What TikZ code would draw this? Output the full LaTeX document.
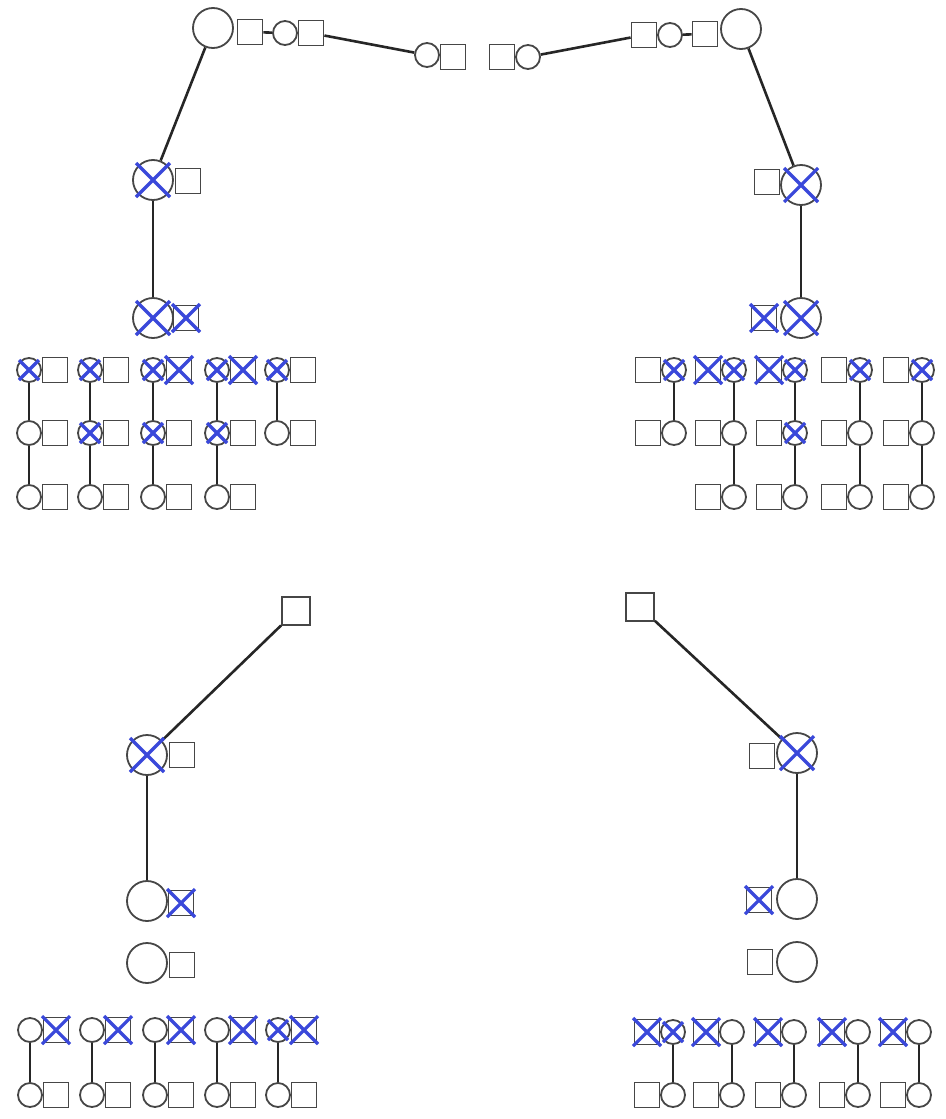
\documentclass[tikz,border=0pt]{standalone}
\begin{document}
\definecolor{xb}{RGB}{58,72,218}
\definecolor{ol}{RGB}{70,70,70}
\tikzset{
 base/.style={draw=ol, line width=1.8pt, inner sep=0pt, fill=white},
 sc/.style={base, circle, minimum size=24pt},
 bc/.style={base, circle, minimum size=40pt},
 sq/.style={base, rectangle, minimum size=25pt},
 bsq/.style={sq, minimum size=28pt},
 link/.style={draw=black!85, line width=2.6pt},
 xmk/.style={draw=xb, line width=3.2pt},
}
\newcommand\xc[2]{\draw[xmk] ([xshift=-#2pt,yshift=-#2pt]#1.center) -- ([xshift=#2pt,yshift=#2pt]#1.center) ([xshift=-#2pt,yshift=#2pt]#1.center) -- ([xshift=#2pt,yshift=-#2pt]#1.center);}
\begin{tikzpicture}[x=1pt,y=-1pt]
\useasboundingbox[fill=white] (0,0) rectangle (945,1119);
% top-left chain
\node[bc] (a0) at (213,28) {};
\node[sq] (a1) at (250,32) {};
\node[sc] (a2) at (285,33) {};
\node[sq] (a3) at (311,33) {};
\node[sc] (a4) at (427,55) {};
\node[sq] (a5) at (453,57) {};
\draw[link] (a1) -- (a2);
\draw[link] (a3) -- (a4);
% top-right chain
\node[sq] (b5) at (502,57) {};
\node[sc] (b4) at (528,57) {};
\node[sq] (b3) at (644,35) {};
\node[sc] (b2) at (670,35) {};
\node[sq] (b1) at (705,34) {};
\node[bc] (b0) at (741,29) {};
\draw[link] (b4) -- (b3);
\draw[link] (b2) -- (b1);
% level 2/3 left
\node[bc] (c1) at (153,180) {};
\node[sq] (c1s) at (188,181) {};
\node[bc] (c2) at (153,318) {};
\node[sq] (c2s) at (186,318) {};
\draw[link] (a0) -- (c1);
\draw[link] (c1) -- (c2);
\xc{c1}{17} \xc{c2}{17} \xc{c2s}{14}
% level 2/3 right
\node[bc] (d1) at (801,185) {};
\node[sq] (d1s) at (767,182) {};
\node[bc] (d2) at (801,318) {};
\node[sq] (d2s) at (764,318) {};
\draw[link] (b0) -- (d1);
\draw[link] (d1) -- (d2);
\xc{d1}{17} \xc{d2}{17} \xc{d2s}{14}
% top-left grid
\foreach \c/\x in {1/29,2/90,3/153,4/217,5/277}{
 \node[sc] (gc\c1) at (\x,370) {}; \node[sq] (gs\c1) at (\x+26,370) {};
 \node[sc] (gc\c2) at (\x,433) {}; \node[sq] (gs\c2) at (\x+26,433) {};
 \draw[link] (gc\c1) -- (gc\c2);
}
\foreach \c/\x in {1/29,2/90,3/153,4/217}{
 \node[sc] (gc\c3) at (\x,497) {}; \node[sq] (gs\c3) at (\x+26,497) {};
 \draw[link] (gc\c2) -- (gc\c3);
}
\foreach \n in {gc11,gc21,gc31,gc41,gc51,gc22,gc32,gc42}{\xc{\n}{10}}
\foreach \n in {gs31,gs41}{\xc{\n}{14}}
% top-right grid
\foreach \c/\x in {1/648,2/708,3/769,4/834,5/896}{
 \node[sq] (hs\c1) at (\x,370) {}; \node[sc] (hc\c1) at (\x+26,370) {};
 \node[sq] (hs\c2) at (\x,433) {}; \node[sc] (hc\c2) at (\x+26,433) {};
 \draw[link] (hc\c1) -- (hc\c2);
}
\foreach \c/\x in {2/708,3/769,4/834,5/896}{
 \node[sq] (hs\c3) at (\x,497) {}; \node[sc] (hc\c3) at (\x+26,497) {};
 \draw[link] (hc\c2) -- (hc\c3);
}
\foreach \n in {hc11,hc21,hc31,hc41,hc51,hc32}{\xc{\n}{10}}
\foreach \n in {hs21,hs31}{\xc{\n}{14}}
% bottom-left
\node[bsq] (e0) at (296,611) {};
\node[bc] (e1) at (147,755) {};
\node[sq] (e1s) at (182,755) {};
\node[bc] (e2) at (147,901) {};
\node[sq] (e2s) at (181,903) {};
\node[bc] (e3) at (147,963) {};
\node[sq] (e3s) at (182,965) {};
\draw[link] (e0) -- (e1);
\draw[link] (e1) -- (e2);
\xc{e1}{17} \xc{e2s}{14}
% bottom-right
\node[bsq] (f0) at (640,607) {};
\node[bc] (f1) at (797,753) {};
\node[sq] (f1s) at (762,756) {};
\node[bc] (f2) at (797,899) {};
\node[sq] (f2s) at (759,900) {};
\node[bc] (f3) at (797,962) {};
\node[sq] (f3s) at (760,962) {};
\draw[link] (f0) -- (f1);
\draw[link] (f1) -- (f2);
\xc{f1}{17} \xc{f2s}{14}
% bottom-left grid
\foreach \c/\x in {1/30,2/92,3/155,4/217,5/278}{
 \node[sc] (ic\c1) at (\x,1030) {}; \node[sq] (is\c1) at (\x+26,1030) {};
 \node[sc] (ic\c2) at (\x,1095) {}; \node[sq] (is\c2) at (\x+26,1095) {};
 \draw[link] (ic\c1) -- (ic\c2);
 \xc{is\c1}{14}
}
\xc{ic51}{10}
% bottom-right grid
\foreach \c/\x in {1/647,2/706,3/768,4/832,5/893}{
 \node[sq] (js\c1) at (\x,1032) {}; \node[sc] (jc\c1) at (\x+26,1032) {};
 \node[sq] (js\c2) at (\x,1095) {}; \node[sc] (jc\c2) at (\x+26,1095) {};
 \draw[link] (jc\c1) -- (jc\c2);
 \xc{js\c1}{14}
}
\xc{jc11}{10}
\end{tikzpicture}
\end{document}
